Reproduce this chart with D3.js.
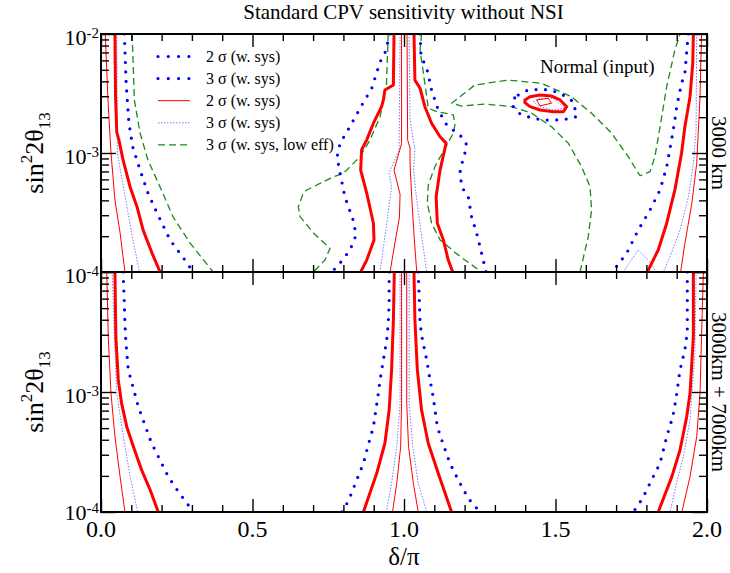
<!DOCTYPE html>
<html><head><meta charset="utf-8">
<script src="https://cdn.jsdelivr.net/npm/d3@7"></script>
<style>
html,body{margin:0;padding:0;background:#fff;}
svg{display:block;font-family:"Liberation Serif","Times New Roman",serif;}
</style></head><body>
<svg id="chart" width="730" height="573"></svg>
<script>
// ---------- Texts ----------
const titleText = "Standard CPV sensitivity without NSI";
const xTickValues = [0, 0.5, 1.0, 1.5, 2.0];
const xTickLabels = ["0.0", "0.5", "1.0", "1.5", "2.0"];
const xMinorTicks = [0.1,0.2,0.3,0.4,0.6,0.7,0.8,0.9,1.1,1.2,1.3,1.4,1.6,1.7,1.8,1.9];
const yDecades = [1e-2, 1e-3, 1e-4];
const yDecadeExps = ["-2", "-3", "-4"];
const panelNames = ["3000 km", "3000km + 7000km"];
const legendLabels = ["2 σ (w. sys)", "3 σ (w. sys)", "2 σ (w. sys)", "3 σ (w. sys)", "3 σ (w. sys, low eff)"];
const legendKinds = ["blueDots", "blueDots", "thinRed", "thinBlue", "green"];
const annotationText = "Normal (input)";

// ---------- Top panel (3000 km): [delta/pi, sin^2 2theta13] ----------
const topThinRedL = [[0.014,1e-2],[0.023,2.79e-3],[0.033,1e-3],[0.046,4.03e-4],[0.063,2.13e-4],[0.079,1e-4]];
const topThickRedL = [[0.046,1e-2],[0.048,3e-3],[0.052,1.5e-3],[0.059,1.29e-3],[0.073,8.7e-4],[0.096,5.18e-4],[0.119,3.52e-4],[0.139,2.25e-4],[0.168,1.45e-4],[0.195,1e-4]];
const topThinBlueL = [[0.052,1e-2],[0.054,1e-3],[0.074,5.18e-4],[0.101,2.13e-4],[0.127,1e-4]];
const topBlueDotsL = [[0.077,1e-2],[0.083,3.87e-3],[0.092,1.79e-3],[0.105,1.12e-3],[0.129,7.19e-4],[0.155,4.61e-4],[0.185,3.13e-4],[0.228,1.86e-4],[0.277,1.26e-4],[0.304,1e-4]];
const topGreenL = [[0.103,1e-2],[0.110,2.79e-3],[0.129,1.47e-3],[0.155,8.7e-4],[0.195,5.18e-4],[0.238,2.90e-4],[0.294,1.75e-4],[0.370,1e-4]];

const topThickRedC1 = [[0.967,1e-2],[0.965,3.73e-3],[0.937,3.38e-3],[0.932,2.79e-3],[0.926,2.45e-3],[0.899,1.78e-3],[0.877,1.29e-3],[0.860,1.06e-3],[0.857,7.19e-4],[0.877,4.61e-4],[0.899,2.57e-4],[0.901,1.86e-4],[0.877,1.26e-4],[0.857,1e-4]];
const topThickRedC2 = [[1.033,1e-2],[1.036,4.10e-3],[1.053,3.50e-3],[1.069,2.45e-3],[1.091,1.78e-3],[1.119,1.37e-3],[1.139,1.21e-3],[1.119,7.19e-4],[1.106,4.30e-4],[1.110,2.57e-4],[1.130,1.86e-4],[1.146,1.26e-4],[1.161,1e-4]];
const topThinRedC1 = [[0.992,1e-2],[0.992,1.2e-3],[0.967,7.19e-4],[0.987,4.5e-4],[0.985,2.9e-4],[0.970,1.75e-4],[0.954,1e-4]];
const topThinRedC2 = [[1.010,1e-2],[1.012,1.29e-3],[1.020,1.10e-3],[1.020,7.92e-4],[1.026,4.03e-4],[1.033,2.05e-4],[1.042,1e-4]];
const topThinBlueC1 = [[0.987,1e-2],[0.984,1.06e-3],[0.951,6.79e-4],[0.959,5.18e-4],[0.940,2.25e-4],[0.921,1e-4]];
const topThinBlueC2 = [[1.017,1e-2],[1.020,1.89e-3],[1.036,1.06e-3],[1.031,7.19e-4],[1.046,3.32e-4],[1.075,1e-4]];
const topBlueDotsC1 = [[0.954,1e-2],[0.937,6.92e-3],[0.921,5.82e-3],[0.894,3.52e-3],[0.861,2.53e-3],[0.815,1.56e-3],[0.789,1.21e-3],[0.779,9.24e-4],[0.789,6.79e-4],[0.805,4.27e-4],[0.832,2.74e-4],[0.842,2.05e-4],[0.822,1.53e-4],[0.789,1.19e-4],[0.762,1e-4]];
const topBlueDotsC2 = [[1.053,1e-2],[1.056,6.67e-3],[1.078,4.82e-3],[1.091,3.38e-3],[1.113,2.30e-3],[1.141,1.72e-3],[1.190,1.37e-3],[1.207,1.17e-3],[1.201,1e-3],[1.185,7.19e-4],[1.190,5.21e-4],[1.212,4.30e-4],[1.223,2.92e-4],[1.240,2.11e-4],[1.256,1.44e-4],[1.271,1e-4]];
const topGreenC1 = [[0.948,1e-2],[0.942,3.73e-3],[0.921,2.02e-3],[0.888,1.29e-3],[0.855,9.31e-4],[0.800,6.75e-4],[0.766,6.28e-4],[0.679,4.89e-4],[0.668,4.61e-4],[0.651,3.54e-4],[0.657,2.92e-4],[0.701,2.13e-4],[0.756,1.58e-4],[0.739,1.26e-4],[0.701,1e-4]];
const topGreenC2 = [[1.058,1e-2],[1.053,7.34e-3],[1.064,4.67e-3],[1.075,2.97e-3],[1.080,2.38e-3],[1.108,2.23e-3],[1.163,2.09e-3],[1.168,1.72e-3],[1.163,1.47e-3],[1.141,1.17e-3],[1.102,7.67e-4],[1.080,5.38e-4],[1.077,3.78e-4],[1.091,2.57e-4],[1.119,1.86e-4],[1.185,1.35e-4],[1.240,1.07e-4],[1.257,1e-4]];
const topGreenArc = [[1.581,1e-4],[1.608,1.98e-4],[1.619,3.32e-4],[1.614,5.21e-4],[1.586,7.67e-4],[1.542,1.21e-3],[1.487,1.66e-3],[1.421,2.16e-3],[1.355,2.45e-3],[1.267,2.58e-3],[1.190,2.48e-3],[1.157,2.62e-3],[1.234,3.73e-3],[1.344,4.10e-3],[1.454,3.85e-3],[1.553,2.97e-3],[1.619,2.16e-3],[1.685,1.47e-3],[1.740,9.31e-4],[1.779,6.44e-4],[1.812,6.97e-4],[1.828,9.31e-4],[1.845,1.66e-3],[1.867,3.61e-3],[1.894,7.34e-3],[1.911,1e-2]];

const islandThickRed = [[1.399,2.79e-3],[1.416,2.97e-3],[1.449,3.07e-3],[1.487,3.01e-3],[1.515,2.79e-3],[1.537,2.45e-3],[1.526,2.22e-3],[1.493,2.22e-3],[1.449,2.30e-3],[1.416,2.45e-3],[1.399,2.65e-3]];
const islandThinRed = [[1.438,2.79e-3],[1.476,2.88e-3],[1.487,2.62e-3],[1.449,2.49e-3]];
const islandThinBlue = [[1.427,2.70e-3],[1.449,2.88e-3],[1.493,2.88e-3],[1.531,2.38e-3],[1.493,2.30e-3],[1.449,2.45e-3]];
const islandBlueDots = [[1.377,3.07e-3],[1.409,3.38e-3],[1.449,3.43e-3],[1.482,3.38e-3],[1.515,3.18e-3],[1.559,2.70e-3],[1.570,2.02e-3],[1.537,1.93e-3],[1.498,1.89e-3],[1.459,1.89e-3],[1.416,1.99e-3],[1.383,2.13e-3],[1.359,2.48e-3],[1.361,2.84e-3]];

const topThickRedR = [[1.955,1e-2],[1.953,5.67e-3],[1.944,2.97e-3],[1.927,1.66e-3],[1.916,9.94e-4],[1.894,4.89e-4],[1.867,2.57e-4],[1.839,1.53e-4],[1.803,1e-4]];
const topThinRedR = [[1.982,1e-2],[1.977,2.97e-3],[1.966,8.18e-4],[1.950,3.78e-4],[1.927,1.74e-4],[1.913,1e-4]];
const topThinBlueR = [[1.966,1e-2],[1.964,1.56e-3],[1.955,8.18e-4],[1.939,4.30e-4],[1.911,2.25e-4],[1.878,1.35e-4],[1.856,1e-4]];
const topThinBlueBump = [[1.723,1e-4],[1.773,1.53e-4],[1.812,1.21e-4],[1.832,1e-4]];
const topBlueDotsR = [[1.938,1e-2],[1.927,4.67e-3],[1.916,3.85e-3],[1.900,2.45e-3],[1.894,1.89e-3],[1.883,1.29e-3],[1.867,7.67e-4],[1.845,4.89e-4],[1.812,3.32e-4],[1.773,2.25e-4],[1.735,1.44e-4],[1.696,1.07e-4],[1.686,1e-4]];

// ---------- Bottom panel (3000km + 7000km) ----------
const botThinRedL = [[0.019,1e-2],[0.024,2.89e-3],[0.033,9.75e-4],[0.046,4.24e-4],[0.063,1.97e-4],[0.079,1e-4]];
const botThickRedL = [[0.046,1e-2],[0.049,2.89e-3],[0.057,1.26e-3],[0.068,8.04e-4],[0.085,5.14e-4],[0.107,3.50e-4],[0.134,2.24e-4],[0.162,1.53e-4],[0.189,1e-4]];
const botThinBlueL = [[0.037,1e-2],[0.044,2.89e-3],[0.052,9.75e-4],[0.074,4.24e-4],[0.096,1.97e-4],[0.121,1e-4]];
const botBlueDotsL = [[0.073,1e-2],[0.077,5.48e-3],[0.079,3.74e-3],[0.082,2.62e-3],[0.090,1.53e-3],[0.107,1.07e-3],[0.123,7.55e-4],[0.145,5.31e-4],[0.167,3.74e-4],[0.195,2.71e-4],[0.222,1.97e-4],[0.255,1.48e-4],[0.294,1.09e-4],[0.300,1e-4]];
const botThickRedC1 = [[0.968,1e-2],[0.965,3.98e-3],[0.959,1.53e-3],[0.951,7.08e-4],[0.937,3.74e-4],[0.910,2.10e-4],[0.866,1e-4]];
const botThickRedC2 = [[1.033,1e-2],[1.036,3.98e-3],[1.044,1.53e-3],[1.058,7.08e-4],[1.080,3.74e-4],[1.113,2.10e-4],[1.157,1e-4]];
const botThinRedC1 = [[0.992,1e-2],[0.992,8.04e-4],[0.989,3.50e-4],[0.976,1.73e-4],[0.962,1e-4]];
const botThinRedC2 = [[1.009,1e-2],[1.009,8.04e-4],[1.015,3.50e-4],[1.031,1.73e-4],[1.047,1e-4]];
const botThinBlueC1 = [[0.987,1e-2],[0.987,8.04e-4],[0.976,3.50e-4],[0.959,1.73e-4],[0.941,1e-4]];
const botThinBlueC2 = [[1.017,1e-2],[1.017,8.04e-4],[1.029,3.50e-4],[1.047,1.73e-4],[1.075,1e-4]];
const botBlueDotsC1 = [[0.951,1e-2],[0.951,5.48e-3],[0.948,3.74e-3],[0.943,2.71e-3],[0.932,1.85e-3],[0.921,1.26e-3],[0.913,8.86e-4],[0.899,5.14e-4],[0.882,3.62e-4],[0.866,2.54e-4],[0.844,1.85e-4],[0.820,1.30e-4],[0.805,1.09e-4],[0.795,1e-4]];
const botBlueDotsC2 = [[1.047,1e-2],[1.051,5.48e-3],[1.053,3.74e-3],[1.061,2.71e-3],[1.075,1.85e-3],[1.086,1.26e-3],[1.097,8.86e-4],[1.110,5.14e-4],[1.130,3.62e-4],[1.152,2.54e-4],[1.179,1.85e-4],[1.212,1.30e-4],[1.234,1.12e-4],[1.250,1e-4]];
const botThickRedR = [[1.955,1e-2],[1.955,2.89e-3],[1.944,9.75e-4],[1.933,6.22e-4],[1.911,3.29e-4],[1.884,1.97e-4],[1.839,1e-4]];
const botThinRedR = [[1.988,1e-2],[1.982,2.89e-3],[1.977,9.75e-4],[1.966,4.24e-4],[1.944,1.97e-4],[1.917,1e-4]];
const botThinBlueR = [[1.964,1e-2],[1.960,2.10e-3],[1.944,5.85e-4],[1.922,2.89e-4],[1.902,1.85e-4],[1.878,1e-4]];
const botBlueDotsR = [[1.935,1e-2],[1.935,5.48e-3],[1.935,3.18e-3],[1.927,2.24e-3],[1.911,1.53e-3],[1.898,8.86e-4],[1.887,6.22e-4],[1.867,4.24e-4],[1.845,2.54e-4],[1.817,1.85e-4],[1.790,1.34e-4],[1.773,1.14e-4],[1.756,1e-4]];

// ---------- Series listing ----------
const seriesList = [
  ["top","green",topGreenL,false],["top","green",topGreenC1,false],["top","green",topGreenC2,false],["top","green",topGreenArc,false],
  ["top","thinBlue",topThinBlueL,false],["top","thinBlue",topThinBlueC1,false],["top","thinBlue",topThinBlueC2,false],["top","thinBlue",topThinBlueR,false],["top","thinBlue",topThinBlueBump,false],["top","thinBlue",islandThinBlue,true],
  ["top","thinRed",topThinRedL,false],["top","thinRed",topThinRedC1,false],["top","thinRed",topThinRedC2,false],["top","thinRed",topThinRedR,false],["top","thinRed",islandThinRed,true],
  ["top","thickRed",topThickRedL,false],["top","thickRed",topThickRedC1,false],["top","thickRed",topThickRedC2,false],["top","thickRed",topThickRedR,false],["top","thickRed",islandThickRed,true],
  ["top","blueDots",topBlueDotsL,false],["top","blueDots",topBlueDotsC1,false],["top","blueDots",topBlueDotsC2,false],["top","blueDots",topBlueDotsR,false],["top","blueDots",islandBlueDots,true],
  ["bot","thinBlue",botThinBlueL,false],["bot","thinBlue",botThinBlueC1,false],["bot","thinBlue",botThinBlueC2,false],["bot","thinBlue",botThinBlueR,false],
  ["bot","thinRed",botThinRedL,false],["bot","thinRed",botThinRedC1,false],["bot","thinRed",botThinRedC2,false],["bot","thinRed",botThinRedR,false],
  ["bot","thickRed",botThickRedL,false],["bot","thickRed",botThickRedC1,false],["bot","thickRed",botThickRedC2,false],["bot","thickRed",botThickRedR,false],
  ["bot","blueDots",botBlueDotsL,false],["bot","blueDots",botBlueDotsC1,false],["bot","blueDots",botBlueDotsC2,false],["bot","blueDots",botBlueDotsR,false]
];

// ---------- Styles ----------
const styles = {
  thickRed: {stroke:"#ff0000", width:3, dash:null, cap:"round", opacity:1},
  thinRed:  {stroke:"#ff0000", width:1, dash:null, cap:"butt", opacity:1},
  blueDots: {stroke:"#0000ff", width:3.2, dash:"0 9.5", cap:"round", opacity:1},
  thinBlue: {stroke:"#4040ff", width:1, dash:"1.5 1.5", cap:"butt", opacity:0.7},
  green:    {stroke:"#1a8a1a", width:1.3, dash:"7 4", cap:"butt", opacity:1}
};

const svg = d3.select("#chart");
svg.append("rect").attr("width",730).attr("height",573).attr("fill","#fff");

const L = 101, R = 707;
const x = d3.scaleLinear().domain([0,2]).range([L,R]);
const panels = {
  top: {y: d3.scaleLog().domain([1e-4,1e-2]).range([272,34]), name: panelNames[0]},
  bot: {y: d3.scaleLog().domain([1e-4,1e-2]).range([512,272]), name: panelNames[1]}
};
const yMinor = [];
[1e-4,1e-3].forEach(d => { for (let k=2;k<=9;k++) yMinor.push(k*d); });

const defs = svg.append("defs");
Object.entries(panels).forEach(([k,p]) => {
  const [b,t] = p.y.range();
  defs.append("clipPath").attr("id","clip-"+k).append("rect")
    .attr("x",L).attr("y",t).attr("width",R-L).attr("height",b-t);
  p.g = svg.append("g").attr("clip-path",`url(#clip-${k})`);
});

// curves
seriesList.forEach(([pk, kind, data, closed]) => {
  const p = panels[pk], s = styles[kind];
  const line = d3.line().x(d => x(d[0])).y(d => p.y(d[1]))
    .curve(closed ? d3.curveLinearClosed : d3.curveLinear);
  p.g.append("path").attr("d", line(data)).attr("fill","none")
    .attr("stroke", s.stroke).attr("stroke-width", s.width)
    .attr("stroke-dasharray", s.dash).attr("stroke-linecap", s.cap)
    .attr("stroke-linejoin","round").attr("opacity", s.opacity);
});

// axes, ticks, frames
function clean(g){ g.select(".domain").remove(); g.selectAll(".tick line").attr("stroke","#000").attr("stroke-width",1.4); g.selectAll(".tick text").remove(); }
Object.values(panels).forEach(p => {
  const [b,t] = p.y.range();
  svg.append("g").attr("transform",`translate(0,${t})`).call(d3.axisBottom(x).tickValues(xTickValues).tickSize(13)).call(clean);
  svg.append("g").attr("transform",`translate(0,${t})`).call(d3.axisBottom(x).tickValues(xMinorTicks).tickSize(7)).call(clean);
  svg.append("g").attr("transform",`translate(0,${b})`).call(d3.axisTop(x).tickValues(xTickValues).tickSize(13)).call(clean);
  svg.append("g").attr("transform",`translate(0,${b})`).call(d3.axisTop(x).tickValues(xMinorTicks).tickSize(7)).call(clean);
  svg.append("g").attr("transform",`translate(${L},0)`).call(d3.axisRight(p.y).tickValues(yDecades).tickSize(15)).call(clean);
  svg.append("g").attr("transform",`translate(${L},0)`).call(d3.axisRight(p.y).tickValues(yMinor).tickSize(8)).call(clean);
  svg.append("g").attr("transform",`translate(${R},0)`).call(d3.axisLeft(p.y).tickValues(yDecades).tickSize(15)).call(clean);
  svg.append("g").attr("transform",`translate(${R},0)`).call(d3.axisLeft(p.y).tickValues(yMinor).tickSize(8)).call(clean);
  svg.append("rect").attr("x",L).attr("y",t).attr("width",R-L).attr("height",b-t)
    .attr("fill","none").attr("stroke","#000").attr("stroke-width",2);
});

// y tick labels
function yLabel(yPos, exp, off){
  const t = svg.append("text").attr("x",99).attr("y",yPos+off).attr("text-anchor","end")
    .attr("font-size",22).attr("fill","#000");
  t.append("tspan").text("10");
  t.append("tspan").attr("dy",-7).attr("font-size",15).text(exp);
}
yDecades.forEach((d,i) => yLabel(panels.top.y(d), yDecadeExps[i], 11));
yLabel(panels.bot.y(1e-3), yDecadeExps[1], 11);
yLabel(panels.bot.y(1e-4), yDecadeExps[2], 8);

// x tick labels
xTickValues.forEach((v,i) => {
  svg.append("text").attr("x",x(v)).attr("y",537).attr("text-anchor","middle")
    .attr("font-size",24).attr("fill","#000").text(xTickLabels[i]);
});

// axis titles
svg.append("text").attr("x",x(1)).attr("y",565).attr("text-anchor","middle")
  .attr("font-size",25).text("δ/π");
Object.values(panels).forEach(p => {
  const [b,t] = p.y.range();
  const mid = (b+t)/2;
  const tt = svg.append("text").attr("transform",`translate(43,${mid}) rotate(-90)`)
    .attr("text-anchor","middle").attr("font-size",26);
  tt.append("tspan").text("sin");
  tt.append("tspan").attr("dy",-11).attr("font-size",17).text("2");
  tt.append("tspan").attr("dy",11).text("2θ");
  tt.append("tspan").attr("dy",7).attr("font-size",17).text("13");
  svg.append("text").attr("transform",`translate(712,${mid}) rotate(90)`)
    .attr("text-anchor","middle").attr("font-size",21).text(p.name);
});

// title
svg.append("text").attr("x",403.5).attr("y",19).attr("text-anchor","middle")
  .attr("font-size",21).text(titleText);

// annotation
svg.append("text").attr("x",540).attr("y",73).attr("font-size",19).text(annotationText);

// legend
legendLabels.forEach((lab,i) => {
  const yy = 56.5 + i*22.1;
  const s = styles[legendKinds[i]];
  svg.append("line").attr("x1",158).attr("x2",190).attr("y1",yy).attr("y2",yy)
    .attr("stroke",s.stroke).attr("stroke-width",s.width)
    .attr("stroke-dasharray", legendKinds[i]==="blueDots" ? "0 10.3" : s.dash)
    .attr("stroke-linecap",s.cap).attr("opacity",s.opacity);
  svg.append("text").attr("x",206).attr("y",yy+5.5).attr("font-size",16).text(lab);
});
</script>
</body></html>
